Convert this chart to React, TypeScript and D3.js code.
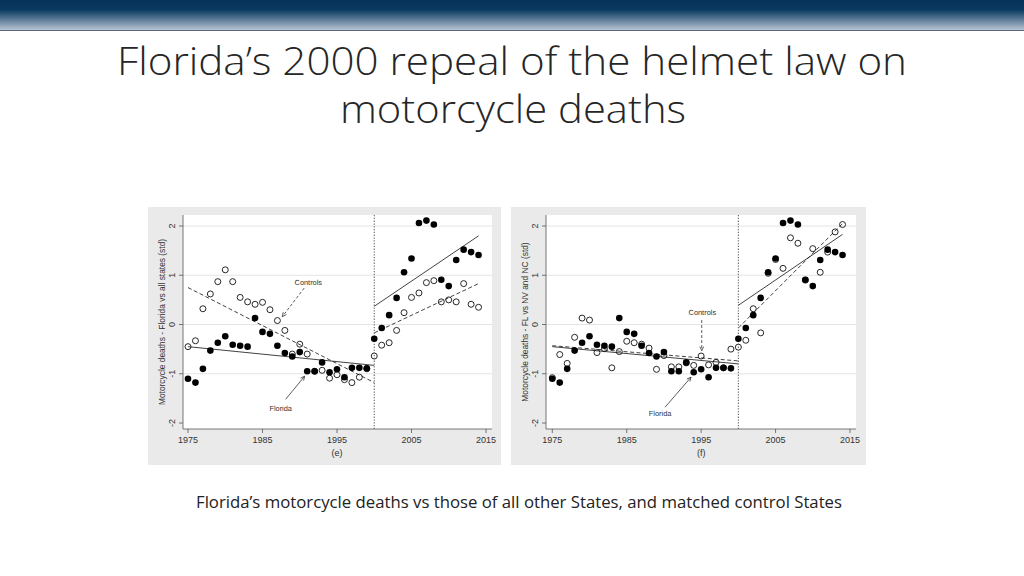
import * as React from 'react';
import * as d3 from 'd3';

// years 1975..2014, one value per year
const years = d3.range(1975, 2015);

const floridaDeaths = [
  -1.1, -1.18, -0.9, -0.53, -0.37, -0.24, -0.41, -0.43, -0.45, 0.13,
  -0.15, -0.19, -0.43, -0.58, -0.65, -0.56, -0.95, -0.95, -0.77, -0.97,
  -0.91, -1.07, -0.88, -0.88, -0.89, -0.29, -0.07, 0.19, 0.54, 1.06,
  1.34, 2.06, 2.11, 2.03, 0.91, 0.78, 1.31, 1.52, 1.47, 1.41,
];

const controlsAllStates = [
  -0.45, -0.33, 0.32, 0.62, 0.87, 1.11, 0.87, 0.55, 0.46, 0.41,
  0.45, 0.3, 0.08, -0.12, -0.6, -0.4, -0.6, -0.95, -0.93, -1.09,
  -1.02, -1.12, -1.18, -1.07, -0.9, -0.64, -0.42, -0.37, -0.12, 0.24,
  0.55, 0.64, 0.85, 0.89, 0.46, 0.5, 0.46, 0.83, 0.41, 0.35,
];

const controlsNvNc = [
  -1.08, -0.61, -0.79, -0.26, 0.13, 0.09, -0.57, -0.49, -0.88, -0.55,
  -0.34, -0.37, -0.4, -0.48, -0.91, -0.63, -0.86, -0.86, -0.78, -0.83,
  -0.64, -0.82, -0.77, -0.88, -0.5, -0.46, -0.32, 0.32, -0.17, 1.04,
  1.32, 1.14, 1.76, 1.65, 0.9, 1.54, 1.06, 1.47, 1.88, 2.03,
];

const xTicks = [1975, 1985, 1995, 2005, 2015];
const yTicks = [-2, -1, 0, 1, 2];
const gridTicks = [-1, 0, 1, 2];
const repealYear = 2000;

// fitted trend segments [year, value]
const fitFloridaPreE = [[1975, -0.45], [2000, -0.83]];
const fitControlsPreE = [[1975, 0.75], [2000, -1.18]];
const fitFloridaPostE = [[2000, 0.37], [2014, 1.8]];
const fitControlsPostE = [[2000, -0.17], [2014, 0.83]];

const fitFloridaPreF = [[1975, -0.45], [2000, -0.8]];
const fitControlsPreF = [[1975, -0.43], [2000, -0.74]];
const fitFloridaPostF = [[2000, 0.39], [2014, 1.83]];
const fitControlsPostF = [[2000, -0.07], [2014, 2.05]];

// annotation: label position, arrow from -> to (data coords)
const notesE = [
  { text: 'Controls', at: [1991.15, 0.86], from: [1990.6, 0.74], to: [1987.66, 0.16], dashed: true },
  { text: 'Florida', at: [1987.44, -1.71], from: [1988.1, -1.52], to: [1990.66, -1.05], dashed: false },
];
const notesF = [
  { text: 'Controls', at: [1995.16, 0.24], from: [1995.08, 0.09], to: [1995.08, -0.53], dashed: true },
  { text: 'Florida', at: [1989.48, -1.8], from: [1990.15, -1.68], to: [1993.64, -1.07], dashed: false },
];

const panels = [
  {
    gx: 148, gw: 353, px0: 183, px1: 492, t0: 188, t1: 486,
    yLabel: 'Motorcycle deaths - Florida vs all states (std)', sub: '(e)',
    controls: controlsAllStates,
    fits: [
      { pts: fitFloridaPreE, dashed: false }, { pts: fitControlsPreE, dashed: true },
      { pts: fitFloridaPostE, dashed: false }, { pts: fitControlsPostE, dashed: true },
    ],
    notes: notesE,
  },
  {
    gx: 511, gw: 355, px0: 546, px1: 856, t0: 552.3, t1: 850,
    yLabel: 'Motorcycle deaths - FL vs NV and NC (std)', sub: '(f)',
    controls: controlsNvNc,
    fits: [
      { pts: fitFloridaPreF, dashed: false }, { pts: fitControlsPreF, dashed: true },
      { pts: fitFloridaPostF, dashed: false }, { pts: fitControlsPostF, dashed: true },
    ],
    notes: notesF,
  },
];

const gy = 207, gh = 258, py0 = 215, py1 = 429;
const axisFont = '"Liberation Sans", Arial, sans-serif';

const Panel = ({ p }: { p: any }) => {
  const x = d3.scaleLinear().domain([1975, 2015]).range([p.t0, p.t1]);
  const y = d3.scaleLinear().domain([-2, 2]).range([423, 226]);
  const line = d3.line<number[]>().x(d => x(d[0])).y(d => y(d[1]));

  const arrowHead = (n: any) => {
    const x1 = x(n.from[0]), y1 = y(n.from[1]);
    const x2 = x(n.to[0]), y2 = y(n.to[1]);
    const a = Math.atan2(y2 - y1, x2 - x1);
    const L = 4.5, s = 0.45;
    return `M${x2 - L * Math.cos(a - s)},${y2 - L * Math.sin(a - s)}L${x2},${y2}L${x2 - L * Math.cos(a + s)},${y2 - L * Math.sin(a + s)}`;
  };

  return (
    <g>
      <rect x={p.gx} y={gy} width={p.gw} height={gh} fill="#eaeaea" />
      <rect x={p.px0} y={py0} width={p.px1 - p.px0} height={py1 - py0} fill="#ffffff" />
      {gridTicks.map(t => (
        <line key={t} x1={p.px0} x2={p.px1} y1={y(t)} y2={y(t)} stroke="#e4e4e4" strokeWidth={1} />
      ))}
      {/* axes */}
      <line x1={p.px0} x2={p.px0} y1={py0} y2={py1} stroke="#555" strokeWidth={0.8} />
      <line x1={p.px0} x2={p.px1} y1={py1} y2={py1} stroke="#555" strokeWidth={0.8} />
      {yTicks.map(t => (
        <g key={t}>
          <line x1={p.px0 - 4} x2={p.px0} y1={y(t)} y2={y(t)} stroke="#555" strokeWidth={0.8} />
          <text transform={`translate(${p.px0 - 8},${y(t)}) rotate(-90)`} textAnchor="middle"
            fontFamily={axisFont} fontSize={9} fill="#333">{t}</text>
        </g>
      ))}
      {xTicks.map(t => (
        <g key={t}>
          <line x1={x(t)} x2={x(t)} y1={py1} y2={py1 + 4} stroke="#555" strokeWidth={0.8} />
          <text x={x(t)} y={py1 + 13.5} textAnchor="middle" fontFamily={axisFont} fontSize={9} fill="#333">{t}</text>
        </g>
      ))}
      <text transform={`translate(${p.px0 - 18.5},${(py0 + py1) / 2}) rotate(-90)`} textAnchor="middle"
        fontFamily={axisFont} fontSize={8.4} fill="#333">{p.yLabel}</text>
      <text x={x(1995)} y={py1 + 27} textAnchor="middle" fontFamily={axisFont} fontSize={9} fill="#333">{p.sub}</text>

      {/* controls (hollow) */}
      {years.map((yr, i) => (
        <circle key={'c' + yr} cx={x(yr)} cy={y(p.controls[i])} r={3} fill="none" stroke="#111" strokeWidth={0.9} />
      ))}
      {/* fitted lines */}
      {p.fits.map((f: any, i: number) => (
        <path key={'f' + i} d={line(f.pts) as string} fill="none" stroke="#111" strokeWidth={0.8}
          strokeDasharray={f.dashed ? '4,2.5' : undefined} />
      ))}
      {/* repeal line */}
      <line x1={x(repealYear)} x2={x(repealYear)} y1={py0} y2={py1} stroke="#666" strokeWidth={1.1} strokeDasharray="1.3,1.5" />
      {/* Florida (solid) */}
      {years.map((yr, i) => (
        <circle key={'fl' + yr} cx={x(yr)} cy={y(floridaDeaths[i])} r={3.3} fill="#000" />
      ))}
      {/* annotations */}
      {p.notes.map((n: any) => (
        <g key={n.text}>
          <text x={x(n.at[0])} y={y(n.at[1]) + 2.6} textAnchor="middle" fontFamily={axisFont} fontSize={7.4}
            fill="#333" style={{ textRendering: 'geometricPrecision' }}>{n.text}</text>
          <line x1={x(n.from[0])} y1={y(n.from[1])} x2={x(n.to[0])} y2={y(n.to[1])} stroke="#333" strokeWidth={0.8}
            strokeDasharray={n.dashed ? '3,2' : undefined} />
          <path d={arrowHead(n)} fill="none" stroke="#333" strokeWidth={0.8} />
        </g>
      ))}
    </g>
  );
};

const App = () => {
  return (
    <div style={{ position: 'absolute', left: 0, top: 0 }}>
      <svg width={1024} height={576} style={{ display: 'block', background: '#fff' }}>
        <defs>
          <linearGradient id="hdr" x1="0" y1="0" x2="0" y2="1">
            <stop offset="0" stopColor="#05335a" />
            <stop offset="0.33" stopColor="#0b3a61" />
            <stop offset="1" stopColor="#b6c4d2" />
          </linearGradient>
        </defs>
        <rect x={0} y={0} width={1024} height={30} fill="url(#hdr)" />
        <line x1={0} x2={1024} y1={30.5} y2={30.5} stroke="#56687a" strokeWidth={1} />
        <text x={512} y={75} textAnchor="middle" fontFamily='"Open Sans", sans-serif' fontWeight={300}
          fontSize={38} fill="#262626" textLength={790} lengthAdjust="spacingAndGlyphs">
          Florida’s 2000 repeal of the helmet law on
        </text>
        <text x={513} y={123} textAnchor="middle" fontFamily='"Open Sans", sans-serif' fontWeight={300}
          fontSize={38} fill="#262626" textLength={346} lengthAdjust="spacingAndGlyphs">
          motorcycle deaths
        </text>
        {panels.map((p, i) => <Panel key={i} p={p} />)}
        <text x={519} y={508} textAnchor="middle" fontFamily='"Open Sans", sans-serif' fontSize={15.5}
          fill="#222" textLength={646} lengthAdjust="spacingAndGlyphs">
          Florida’s motorcycle deaths vs those of all other States, and matched control States
        </text>
      </svg>
    </div>
  );
};

export default App;
